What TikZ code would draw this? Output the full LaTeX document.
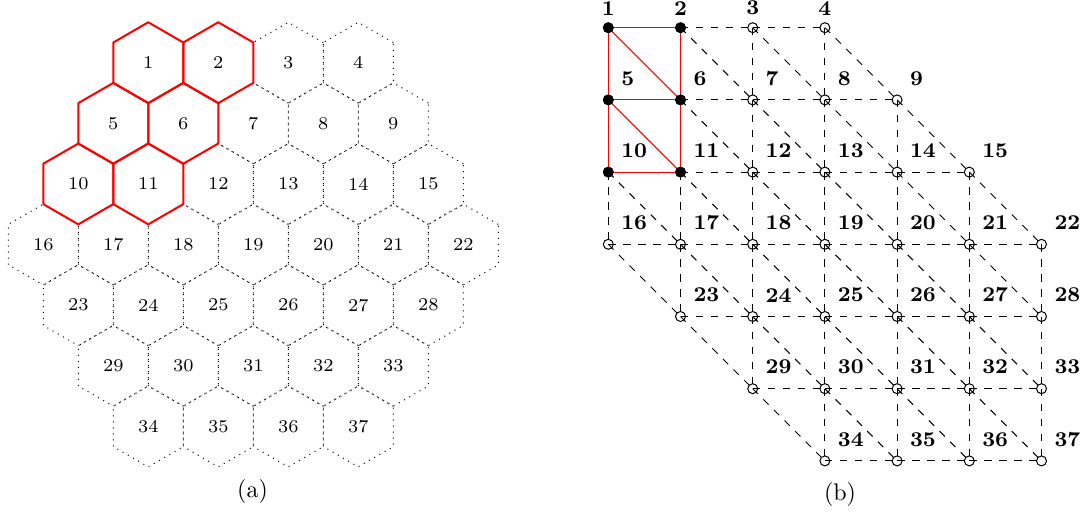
\documentclass[tikz,border=0pt]{standalone}
\usepackage{amsmath}
\usetikzlibrary{calc}

\begin{document}
\begin{tikzpicture}[x=0.4pt,y=0.4pt,
    hexcell/.style={black,dotted},
    hexsel/.style={red,thick,line join=round},
    hexnum/.style={font=\fontsize{7.2}{8.6}\selectfont},
    gridlink/.style={black,dashed},
    sellink/.style={red},
    ptnum/.style={font=\fontsize{8.4}{10}\selectfont\bfseries,inner sep=0pt},
    subcap/.style={font=\fontsize{9.6}{11.5}\selectfont}]
\useasboundingbox (0,0) rectangle (1087,515);
\def\hexr{40.41}

% (a) hexagonal cells
\foreach \k/\n/\first in {0/4/1,1/5/5,2/6/10,3/7/16,4/6/23,5/5/29,6/4/34}{
    \foreach \j in {1,...,\n}{
        \pgfmathtruncatemacro\idx{\first+\j-1}
        \pgfmathsetmacro\hx{253.3+70*(\j-1-(\n-1)/2)}
        \pgfmathsetmacro\hy{452.3-60.62*\k}
        \node[hexnum] (h\idx) at (\hx,\hy) {\idx};
        \draw[hexcell] (h\idx.center) +(30:\hexr) -- +(90:\hexr) -- +(150:\hexr)
            -- +(210:\hexr) -- +(270:\hexr) -- +(330:\hexr) -- cycle;
    }
}
\foreach \i in {1,2,5,6,10,11}
    \draw[hexsel] (h\i.center) +(30:\hexr) -- +(90:\hexr) -- +(150:\hexr)
        -- +(210:\hexr) -- +(270:\hexr) -- +(330:\hexr) -- cycle;
\node[subcap] (capa) at (252.5,23.5) {(a)};

% (b) triangular grid
\foreach \r/\lo/\hi/\first in {0/0/3/1,1/0/4/5,2/0/5/10,3/0/6/16,4/1/6/23,5/2/6/29,6/3/6/34}{
    \foreach \c in {\lo,...,\hi}{
        \pgfmathtruncatemacro\idx{\first+\c-\lo}
        \coordinate (g-\r-\c) at ({608.3+72.2*\c},{487.3-72.2*\r});
        \ifnum\r=0
            \node[ptnum,anchor=south] (n\idx) at ($(g-\r-\c)+(0,12)$) {\idx};
        \else
            \node[ptnum,anchor=south west] (n\idx) at ($(g-\r-\c)+(12.5,14)$) {\idx};
        \fi
    }
}
% horizontal
\foreach \r/\lo/\hi in {0/0/3,1/0/4,2/0/5,3/0/6,4/1/6,5/2/6,6/3/6}{
    \pgfmathtruncatemacro\hm{\hi-1}
    \foreach \c in {\lo,...,\hm}{
        \pgfmathtruncatemacro\cn{\c+1}
        \pgfmathtruncatemacro\sel{and(\r<3,\c==0)}
        \ifnum\sel=0 \draw[gridlink] (g-\r-\c) -- (g-\r-\cn); \fi
    }
}
% vertical and diagonal
\foreach \r/\vlo/\vhi/\dlo/\dhi in {0/0/3/0/3,1/0/4/0/4,2/0/5/0/5,3/1/6/0/5,4/2/6/1/5,5/3/6/2/5}{
    \pgfmathtruncatemacro\rn{\r+1}
    \foreach \c in {\vlo,...,\vhi}{
        \pgfmathtruncatemacro\sel{and(\r<2,\c<2)}
        \ifnum\sel=0 \draw[gridlink] (g-\r-\c) -- (g-\rn-\c); \fi
    }
    \foreach \c in {\dlo,...,\dhi}{
        \pgfmathtruncatemacro\cn{\c+1}
        \pgfmathtruncatemacro\sel{and(\r<2,\c==0)}
        \ifnum\sel=0 \draw[gridlink] (g-\r-\c) -- (g-\rn-\cn); \fi
    }
}
\foreach \a/\b in {g-0-0/g-0-1, g-1-0/g-1-1, g-2-0/g-2-1, g-0-0/g-1-0, g-0-1/g-1-1,
        g-1-0/g-2-0, g-1-1/g-2-1, g-0-0/g-1-1, g-1-0/g-2-1}
    \draw[sellink] (\a) -- (\b);
% points
\foreach \r/\lo/\hi in {0/0/3,1/0/4,2/0/5,3/0/6,4/1/6,5/2/6,6/3/6}
    \foreach \c in {\lo,...,\hi}
        \draw[black] (g-\r-\c) circle (2pt);
\foreach \p in {g-0-0,g-0-1,g-1-0,g-1-1,g-2-0,g-2-1}
    \fill[black] (\p) circle (2.1pt);
\node[subcap] (capb) at (840,21) {(b)};
\end{tikzpicture}
\end{document}
